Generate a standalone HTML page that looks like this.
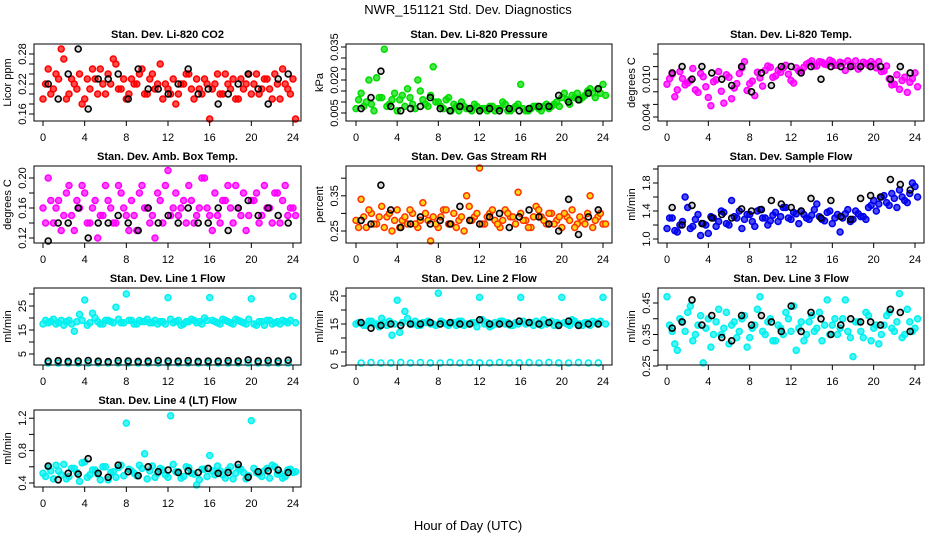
<!DOCTYPE html>
<html><head><meta charset="utf-8"><style>
html,body{margin:0;padding:0;background:#fff;}
svg{display:block;font-family:"Liberation Sans",sans-serif;}
</style></head><body>
<svg id="chart" width="936" height="540" viewBox="0 0 936 540" xmlns="http://www.w3.org/2000/svg">
<text x="468" y="14" font-size="13" text-anchor="middle">NWR_151121  Std. Dev. Diagnostics</text>
<text x="468" y="530" font-size="13" text-anchor="middle">Hour of Day (UTC)</text>
</svg>
<script>
// ---- data ----
const xTicks = [0,4,8,12,16,20,24];
const co2Red1 = [0.19,0.25,0.21,0.23,0.27,0.20,0.22,0.24,0.19,0.21,0.23,0.25,0.20,0.22,0.26,0.21,0.19,0.23,0.22,0.25,0.20,0.24,0.22,0.19,0.21,0.23,0.20,0.22,0.24,0.19,0.21,0.23,0.15,0.22,0.20,0.24,0.21,0.19,0.23,0.22,0.20,0.24,0.21,0.23,0.19,0.22,0.25,0.21,0.23];
const co2Red2 = [0.22,0.20,0.24,0.29,0.19,0.23,0.21,0.18,0.23,0.25,0.20,0.22,0.24,0.27,0.21,0.23,0.20,0.22,0.24,0.20,0.23,0.21,0.26,0.22,0.20,0.18,0.22,0.24,0.21,0.23,0.20,0.22,0.21,0.24,0.20,0.22,0.23,0.19,0.21,0.24,0.22,0.20,0.23,0.21,0.24,0.19,0.22,0.20,0.15];
const co2Black = [0.22,0.19,0.24,0.29,0.17,0.23,0.23,0.24,0.19,0.25,0.21,0.21,0.20,0.22,0.25,0.20,0.21,0.18,0.20,0.22,0.24,0.21,0.18,0.23,0.24];
const presGreen1 = [0.007,0.014,0.010,0.009,0.021,0.012,0.008,0.011,0.006,0.013,0.016,0.009,0.020,0.011,0.008,0.026,0.010,0.007,0.012,0.009,0.006,0.008,0.007,0.009,0.006,0.007,0.008,0.006,0.007,0.009,0.006,0.008,0.018,0.006,0.007,0.008,0.006,0.009,0.008,0.010,0.012,0.011,0.013,0.014,0.012,0.015,0.014,0.016,0.018];
const presGreen2 = [0.011,0.008,0.020,0.006,0.012,0.034,0.009,0.014,0.011,0.008,0.012,0.007,0.015,0.009,0.013,0.010,0.008,0.011,0.006,0.008,0.010,0.007,0.006,0.008,0.007,0.006,0.008,0.007,0.010,0.006,0.007,0.009,0.007,0.006,0.008,0.007,0.008,0.007,0.009,0.008,0.014,0.009,0.012,0.011,0.013,0.016,0.012,0.014,0.013];
const presBlack = [0.007,0.012,0.024,0.008,0.006,0.007,0.008,0.012,0.007,0.006,0.008,0.007,0.006,0.007,0.006,0.007,0.006,0.007,0.008,0.008,0.013,0.010,0.011,0.014,0.016];
const tempMag1 = [0.0092,0.0108,0.0083,0.0101,0.0094,0.0117,0.0079,0.0104,0.0071,0.0096,0.0112,0.0062,0.0103,0.0086,0.0109,0.0128,0.0093,0.0074,0.0102,0.0114,0.0119,0.0105,0.0111,0.0122,0.0098,0.0118,0.0113,0.0124,0.0129,0.0121,0.0127,0.0123,0.0128,0.0122,0.0125,0.0129,0.0121,0.0116,0.0127,0.0122,0.0124,0.0128,0.0113,0.0101,0.0092,0.0084,0.0103,0.0095,0.0110];
const tempMag2 = [0.0101,0.0072,0.0112,0.0091,0.0098,0.0083,0.0109,0.0088,0.0058,0.0099,0.0081,0.0107,0.0069,0.0093,0.0118,0.0082,0.0097,0.0111,0.0089,0.0121,0.0103,0.0114,0.0118,0.0108,0.0094,0.0113,0.0119,0.0126,0.0121,0.0128,0.0124,0.0130,0.0122,0.0127,0.0114,0.0123,0.0129,0.0120,0.0125,0.0128,0.0118,0.0112,0.0121,0.0091,0.0107,0.0098,0.0079,0.0101,0.0088];
const tempBlack = [0.011,0.012,0.010,0.012,0.011,0.010,0.009,0.012,0.008,0.011,0.009,0.012,0.012,0.011,0.012,0.010,0.012,0.012,0.012,0.012,0.012,0.012,0.010,0.012,0.011];
const boxMag1 = [0.16,0.20,0.14,0.17,0.15,0.19,0.13,0.16,0.18,0.14,0.17,0.15,0.19,0.16,0.14,0.18,0.15,0.17,0.13,0.19,0.16,0.15,0.18,0.14,0.21,0.16,0.15,0.17,0.19,0.14,0.16,0.20,0.15,0.18,0.14,0.17,0.16,0.19,0.15,0.13,0.17,0.18,0.15,0.16,0.14,0.18,0.17,0.15,0.16];
const boxMag2 = [0.14,0.17,0.16,0.13,0.18,0.15,0.17,0.19,0.14,0.16,0.12,0.15,0.17,0.14,0.19,0.16,0.13,0.15,0.18,0.16,0.14,0.12,0.17,0.19,0.15,0.18,0.16,0.14,0.17,0.15,0.20,0.16,0.13,0.15,0.17,0.19,0.14,0.16,0.18,0.15,0.17,0.14,0.19,0.16,0.18,0.14,0.19,0.16,0.15];
const boxBlack = [0.11,0.14,0.14,0.16,0.12,0.14,0.14,0.15,0.14,0.13,0.16,0.14,0.15,0.14,0.16,0.14,0.14,0.16,0.13,0.16,0.17,0.15,0.16,0.15,0.14];
const rhOrange1 = [0.28,0.34,0.26,0.30,0.27,0.32,0.29,0.25,0.31,0.28,0.27,0.30,0.26,0.33,0.28,0.29,0.26,0.31,0.27,0.30,0.28,0.25,0.32,0.29,0.43,0.27,0.30,0.28,0.26,0.31,0.29,0.27,0.30,0.28,0.26,0.32,0.29,0.27,0.30,0.28,0.26,0.29,0.31,0.27,0.28,0.30,0.26,0.29,0.27];
const rhOrange2 = [0.26,0.29,0.31,0.27,0.29,0.26,0.30,0.28,0.26,0.29,0.31,0.27,0.28,0.30,0.22,0.27,0.29,0.31,0.27,0.26,0.29,0.35,0.28,0.30,0.27,0.29,0.31,0.27,0.28,0.30,0.29,0.36,0.28,0.26,0.29,0.31,0.28,0.30,0.27,0.29,0.30,0.28,0.26,0.29,0.27,0.35,0.28,0.30,0.27];
const rhBlack = [0.28,0.27,0.38,0.31,0.26,0.27,0.29,0.27,0.28,0.27,0.32,0.28,0.27,0.29,0.30,0.26,0.29,0.31,0.29,0.27,0.25,0.34,0.24,0.29,0.31];
const flowBlue1 = [1.15,1.30,1.10,1.25,1.45,1.18,1.35,1.22,1.08,1.30,1.25,1.38,1.20,1.32,1.40,1.28,1.35,1.18,1.42,1.30,1.26,1.38,1.32,1.45,1.28,1.36,1.40,1.30,1.34,1.50,1.28,1.38,1.22,1.35,1.30,1.42,1.28,1.36,1.32,1.45,1.55,1.50,1.62,1.48,1.58,1.70,1.55,1.65,1.75];
const flowBlue2 = [1.30,1.12,1.20,1.60,1.15,1.28,1.05,1.20,1.32,1.18,1.40,1.22,1.55,1.30,1.15,1.35,1.25,1.40,1.30,1.20,1.34,1.25,1.45,1.30,1.38,1.22,1.35,1.28,1.42,1.32,1.26,1.40,1.30,1.10,1.36,1.25,1.40,1.32,1.28,1.48,1.40,1.60,1.52,1.65,1.45,1.60,1.52,1.80,1.60];
const flowBlack = [1.45,1.20,1.48,1.22,1.30,1.35,1.30,1.43,1.40,1.42,1.55,1.50,1.45,1.40,1.58,1.30,1.55,1.32,1.28,1.58,1.62,1.60,1.85,1.78,1.70];
const line1Cyan1 = [17.5,18.0,19.5,18.0,17.0,19.0,14.5,21.5,27.5,18.0,20.0,17.5,19.0,18.5,24.5,18.0,30.0,19.0,17.5,18.5,19.5,18.0,17.5,18.5,28.5,18.0,19.0,17.5,18.5,19.0,18.5,20.0,28.5,18.5,17.5,19.0,18.0,19.5,18.5,17.5,28.0,17.0,18.5,19.0,17.5,18.5,19.0,18.0,29.0];
const line1Cyan2 = [19.0,18.5,17.5,19.0,18.5,17.5,18.5,19.0,17.0,22.0,18.5,17.5,19.0,18.0,19.5,18.0,19.0,17.5,19.0,18.5,18.0,19.0,18.5,17.5,19.5,18.5,17.0,18.5,19.5,18.0,17.5,19.0,19.0,18.0,19.5,18.5,17.5,19.0,18.0,19.5,17.5,18.5,17.0,19.0,18.0,17.5,18.5,19.0,18.0];
const line1CyanLow = [1.2,1.0,1.1,0.9,1.3,1.0,1.2,0.9,1.1,1.0,1.3,1.1,0.9,1.2,1.0,1.1,1.3,0.9,1.0,1.2,1.1,1.0,1.2,0.9,1.1];
const line1Black = [2.0,2.2,1.9,2.1,2.3,2.0,1.8,2.2,2.1,1.9,2.0,2.3,2.1,2.0,2.2,1.9,2.1,2.0,2.2,2.1,2.6,2.0,2.3,2.1,2.4];
const line2Cyan1 = [15.0,15.5,14.5,16.0,15.0,17.0,14.5,11.0,23.5,15.5,17.0,15.0,14.5,15.5,16.0,15.0,26.0,15.5,14.5,15.5,16.0,14.5,15.0,15.5,24.5,15.0,14.0,15.5,16.0,15.0,14.5,15.5,24.5,15.0,15.5,16.0,14.5,15.0,16.0,15.5,24.5,15.0,16.5,15.0,14.5,15.5,16.0,15.0,24.5];
const line2Cyan2 = [15.5,14.5,16.0,15.0,14.0,15.5,16.0,15.0,12.0,19.5,15.0,16.0,14.5,15.5,15.0,14.5,16.0,15.0,15.5,14.5,16.0,15.0,15.5,14.0,16.5,15.5,14.5,15.0,16.0,15.5,14.5,15.0,16.0,15.5,14.5,15.0,16.5,15.5,14.5,15.0,15.5,14.5,16.0,15.0,15.5,14.5,15.5,16.0,15.0];
const line2CyanLow = [1.0,1.2,0.9,1.1,1.3,1.0,1.2,1.1,0.9,1.3,1.0,1.2,1.1,1.0,1.3,0.9,1.1,1.2,1.0,1.3,1.1,0.9,1.2,1.0,1.1];
const line2Black = [15.5,13.5,14.5,15.0,14.5,15.0,15.0,15.5,15.0,15.5,15.0,15.0,16.5,15.0,15.0,15.0,16.0,15.5,15.0,15.5,14.5,16.0,14.5,15.0,15.0];
const line3Cyan1 = [0.47,0.36,0.30,0.39,0.42,0.33,0.38,0.26,0.40,0.35,0.43,0.37,0.32,0.39,0.36,0.41,0.34,0.38,0.47,0.35,0.40,0.33,0.37,0.42,0.36,0.30,0.39,0.35,0.41,0.37,0.33,0.46,0.38,0.35,0.40,0.36,0.28,0.39,0.34,0.41,0.37,0.32,0.38,0.42,0.36,0.48,0.35,0.39,0.37];
const line3Cyan2 = [0.38,0.32,0.40,0.36,0.44,0.35,0.41,0.37,0.31,0.39,0.35,0.42,0.38,0.34,0.40,0.31,0.37,0.43,0.36,0.39,0.33,0.38,0.35,0.40,0.44,0.37,0.33,0.39,0.36,0.42,0.38,0.35,0.40,0.37,0.46,0.34,0.39,0.36,0.42,0.33,0.38,0.35,0.41,0.37,0.39,0.34,0.43,0.36,0.40];
const line3Black = [0.37,0.39,0.46,0.38,0.41,0.34,0.33,0.41,0.38,0.41,0.39,0.36,0.44,0.36,0.42,0.40,0.35,0.38,0.40,0.39,0.39,0.38,0.43,0.42,0.36];
const line4Cyan1 = [0.52,0.60,0.45,0.55,0.63,0.48,0.58,0.42,0.66,0.50,0.56,0.44,0.60,0.53,0.47,0.62,1.14,0.55,0.49,0.58,0.45,0.61,0.52,0.56,0.47,0.63,0.54,0.48,0.59,0.51,0.44,0.57,0.74,0.50,0.55,0.46,0.60,0.52,0.57,0.45,1.17,0.53,0.48,0.58,0.62,0.51,0.46,0.56,0.53];
const line4Cyan2 = [0.48,0.55,0.62,0.50,0.45,0.58,0.53,0.65,0.47,0.56,0.51,0.60,0.44,0.54,0.59,0.49,0.57,0.52,0.62,0.76,0.55,0.47,0.58,0.50,1.23,0.54,0.46,0.60,0.52,0.36,0.57,0.48,0.55,0.61,0.50,0.56,0.45,0.59,0.53,0.49,0.58,0.51,0.55,0.46,0.60,0.52,0.48,0.57,0.54];
const line4Black = [0.61,0.44,0.52,0.51,0.70,0.52,0.47,0.62,0.54,0.49,0.60,0.54,0.56,0.53,0.55,0.53,0.58,0.52,0.53,0.63,0.47,0.54,0.55,0.56,0.53];

const co2Ticks=[0.16,0.18,0.20,0.22,0.24,0.26,0.28], co2Labels=["0.16","","","0.22","","","0.28"];
const presTicks=[0.005,0.010,0.015,0.020,0.025,0.030,0.035], presLabels=["0.005","","","0.020","","","0.035"];
const tempTicks=[0.004,0.006,0.008,0.010,0.012,0.014], tempLabels=["0.004","","","0.010","",""];
const boxTicks=[0.12,0.14,0.16,0.18,0.20], boxLabels=["0.12","","0.16","","0.20"];
const rhTicks=[0.25,0.30,0.35,0.40], rhLabels=["0.25","","0.35",""];
const flowTicks=[1.0,1.2,1.4,1.6,1.8,2.0], flowLabels=["1.0","","1.4","","1.8",""];
const l1Ticks=[5,10,15,20,25,30], l1Labels=["5","","15","","25",""];
const l2Ticks=[0,5,10,15,20,25], l2Labels=["0","5","","15","","25"];
const l3Ticks=[0.25,0.30,0.35,0.40,0.45], l3Labels=["0.25","","0.35","","0.45"];
const l4Ticks=[0.4,0.6,0.8,1.0,1.2], l4Labels=["0.4","","0.8","","1.2"];

// ---- layout ----
const NS="http://www.w3.org/2000/svg";
const svg=document.getElementById('chart');
const cols=[{bl:34,br:301,x0:43,x24:293,tl:22,yl:7},{bl:346,br:612,x0:356,x24:603,tl:334,yl:319},{bl:658,br:924,x0:667,x24:915,tl:646,yl:631}];
const rowsTop=[44,166,288,410];
function mk(tag,attrs,parent){const e=document.createElementNS(NS,tag);for(const k in attrs)e.setAttribute(k,attrs[k]);(parent||svg).appendChild(e);return e;}
function mainHours(n,off){const h=[];for(let i=0;i<n;i++)h.push(i*0.5+off);return h;}
function blackHours(n){const h=[];for(let i=0;i<n;i++)h.push(0.5+i*0.96);return h;}

const panels=[
 {key:'co2',title:'Stan. Dev. Li-820 CO2',ylab:'Licor ppm',c:0,r:0,v0:0.16,p0:114,ppu:500,ticks:co2Ticks,labels:co2Labels,
  series:[{v:co2Red1,off:0,col:'#ff0000'},{v:co2Red2,off:0.25,col:'#ff0000'},{v:co2Black,blk:1,col:'#000'}]},
 {key:'pressure',title:'Stan. Dev. Li-820 Pressure',ylab:'kPa',c:1,r:0,v0:0.005,p0:113,ppu:2200,ticks:presTicks,labels:presLabels,
  series:[{v:presGreen1,off:0,col:'#00dd00'},{v:presGreen2,off:0.25,col:'#00dd00'},{v:presBlack,blk:1,col:'#000'}]},
 {key:'temp',title:'Stan. Dev. Li-820 Temp.',ylab:'degrees C',c:2,r:0,v0:0.004,p0:117,ppu:6300,ticks:tempTicks,labels:tempLabels,
  series:[{v:tempMag1,off:0,col:'#ff00ff'},{v:tempMag2,off:0.25,col:'#ff00ff'},{v:tempBlack,blk:1,col:'#000'}]},
 {key:'ambbox',title:'Stan. Dev. Amb. Box Temp.',ylab:'degrees C',c:0,r:1,v0:0.12,p0:238,ppu:750,ticks:boxTicks,labels:boxLabels,
  series:[{v:boxMag1,off:0,col:'#ff00ff'},{v:boxMag2,off:0.25,col:'#ff00ff'},{v:boxBlack,blk:1,col:'#000'}]},
 {key:'rh',title:'Stan. Dev. Gas Stream RH',ylab:'percent',c:1,r:1,v0:0.25,p0:231,ppu:352,ticks:rhTicks,labels:rhLabels,
  series:[{v:rhOrange1,off:0,col:'#ff3300',fill:'#ffd400'},{v:rhOrange2,off:0.25,col:'#ff3300',fill:'#ffd400'},{v:rhBlack,blk:1,col:'#000'}]},
 {key:'sampleflow',title:'Stan. Dev. Sample Flow',ylab:'ml/min',c:2,r:1,v0:1.0,p0:239,ppu:70,ticks:flowTicks,labels:flowLabels,
  series:[{v:flowBlue1,off:0,col:'#0000ee'},{v:flowBlue2,off:0.25,col:'#0000ee'},{v:flowBlack,blk:1,col:'#000'}]},
 {key:'line1',title:'Stan. Dev. Line 1 Flow',ylab:'ml/min',c:0,r:2,v0:5,p0:354,ppu:2.4,ticks:l1Ticks,labels:l1Labels,
  series:[{v:line1Cyan1,off:0,col:'#00f0f0'},{v:line1Cyan2,off:0.25,col:'#00f0f0'},{v:line1CyanLow,blk:1,col:'#00f0f0'},{v:line1Black,blk:1,col:'#000'}]},
 {key:'line2',title:'Stan. Dev. Line 2 Flow',ylab:'ml/min',c:1,r:2,v0:0,p0:366,ppu:2.8,ticks:l2Ticks,labels:l2Labels,
  series:[{v:line2Cyan1,off:0,col:'#00f0f0'},{v:line2Cyan2,off:0.25,col:'#00f0f0'},{v:line2CyanLow,blk:1,col:'#00f0f0'},{v:line2Black,blk:1,col:'#000'}]},
 {key:'line3',title:'Stan. Dev. Line 3 Flow',ylab:'ml/min',c:2,r:2,v0:0.25,p0:366,ppu:315,ticks:l3Ticks,labels:l3Labels,
  series:[{v:line3Cyan1,off:0,col:'#00f0f0'},{v:line3Cyan2,off:0.25,col:'#00f0f0'},{v:line3Black,blk:1,col:'#000'}]},
 {key:'line4',title:'Stan. Dev. Line 4 (LT) Flow',ylab:'ml/min',c:0,r:3,v0:0.4,p0:483,ppu:81,ticks:l4Ticks,labels:l4Labels,
  series:[{v:line4Cyan1,off:0,col:'#00f0f0'},{v:line4Cyan2,off:0.25,col:'#00f0f0'},{v:line4Black,blk:1,col:'#000'}]}
];

panels.forEach(p=>{
  const C=cols[p.c], top=rowsTop[p.r], bot=top+77;
  const xs=h=>C.x0+(C.x24-C.x0)*h/24;
  const ys=v=>p.p0-(v-p.v0)*p.ppu;
  const g=mk('g',{});
  
  
  const t=mk('text',{x:(C.bl+C.br)/2,y:top-6,'font-size':11,'font-weight':'bold','text-anchor':'middle'},g);
  
  
  t.textContent=p.title;
  const pts=mk('g',{},g);
  
  
  p.series.forEach(s=>{
    const hrs=s.blk?blackHours(s.v.length):mainHours(s.v.length,s.off);
    s.v.forEach((v,i)=>{
      let y=ys(v); y=Math.max(top+2,Math.min(bot-2,y));
      const c=mk('circle',{cx:xs(hrs[i]).toFixed(1),cy:y.toFixed(1),r:3,stroke:s.col,'stroke-width':s.blk?1.6:1.5,fill:s.fill||s.col,'fill-opacity':s.fill?0.9:(s.blk?0.15:0.7)},pts);
      
      
    });
  });
  const box=mk('rect',{x:C.bl,y:top,width:C.br-C.bl,height:bot-top,fill:'none',stroke:'#000','stroke-width':1},g);
  
  
  const xa=mk('g',{},g);
  
  
  mk('line',{x1:xs(0),x2:xs(24),y1:bot,y2:bot,stroke:'#000'},xa);
  xTicks.forEach(h=>{
    mk('line',{x1:xs(h),x2:xs(h),y1:bot,y2:bot+5,stroke:'#000'},xa);
    const tl=mk('text',{x:xs(h),y:bot+20,'font-size':11,'text-anchor':'middle'},xa);
    
    
    tl.textContent=h;
  });
  const ya=mk('g',{},g);
  
  
  mk('line',{x1:C.bl,x2:C.bl,y1:ys(p.ticks[0]),y2:ys(p.ticks[p.ticks.length-1]),stroke:'#000'},ya);
  p.ticks.forEach((v,i)=>{
    const y=ys(v);
    mk('line',{x1:C.bl-5,x2:C.bl,y1:y,y2:y,stroke:'#000'},ya);
    if(p.labels[i]){
      const tl=mk('text',{x:C.tl,y:y,'font-size':11,'text-anchor':'middle',transform:`rotate(-90 ${C.tl} ${y})`,dy:'0.35em'},ya);
      
      
      tl.textContent=p.labels[i];
    }
  });
  const cy=(top+bot)/2;
  const yl=mk('text',{x:C.yl,y:cy,'font-size':11,'text-anchor':'middle',transform:`rotate(-90 ${C.yl} ${cy})`,dy:'0.35em'},g);
  
  
  yl.textContent=p.ylab;
});
</script>
</body></html>
